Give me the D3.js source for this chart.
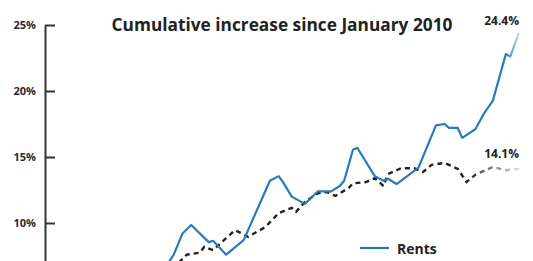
<!DOCTYPE html>
<html>
<head>
<meta charset="utf-8">
<script src="https://cdn.jsdelivr.net/npm/d3@7"></script>
<style>
  body { margin: 0; background: #fff; }
  svg { display: block; font-family: "Open Sans", sans-serif; }
</style>
</head>
<body>
<svg id="chart"></svg>
<script>
// months since January 2010 and cumulative % change
const rentMonths = [0, 12, 24, 28, 29, 31, 33, 37, 38, 41, 45, 51, 53, 54, 56, 59, 62, 65, 67, 68, 70, 71, 75, 77, 78, 80, 85, 89, 91, 92, 94, 95, 98, 100, 102, 105, 106, 108];
const rentValues = [0, 2.4, 5.0, 7.1, 7.6, 9.2, 9.85, 8.55, 8.65, 7.6, 8.7, 13.2, 13.55, 13.1, 12.0, 11.45, 12.4, 12.4, 12.8, 13.2, 15.55, 15.7, 13.55, 13.2, 13.35, 12.95, 14.2, 17.4, 17.5, 17.2, 17.2, 16.45, 17.1, 18.3, 19.25, 22.8, 22.6, 24.4];

const cpiMonths = [0, 12, 24, 32, 35, 36, 38, 41, 43, 45, 46, 50, 53, 56, 57, 59, 62, 64, 66, 69, 70, 73, 75, 77, 78, 81, 84, 86, 88, 91, 94, 96, 98, 102, 105, 108];
const cpiValues = [0, 2.2, 5.0, 7.6, 7.75, 8.2, 7.95, 8.85, 9.45, 9.15, 8.95, 9.7, 10.75, 11.15, 10.85, 11.6, 12.25, 12.35, 12.05, 12.65, 13.0, 13.1, 13.4, 12.8, 13.7, 14.15, 14.15, 13.85, 14.4, 14.55, 14.1, 13.1, 13.65, 14.25, 14.0, 14.1];

// only the upper ticks are inside the visible window
const yTicks = [10, 15, 20, 25];
const titleText = 'Cumulative increase since January 2010';
const rentLabel = 'Rents';

const width = 533, height = 261;
const svg = d3.select('#chart').attr('width', width).attr('height', height);

const xscale = d3.scaleLinear().domain([0, 108]).range([47, 519]);
const yscale = d3.scaleLinear().domain([0, 25]).range([355, 25]);

const rents = rentMonths.map((m, i) => ({ m: m, v: rentValues[i] }));
const cpi = cpiMonths.map((m, i) => ({ m: m, v: cpiValues[i] }));

// fading ends
const defs = svg.append('defs');
function fade(id, color, from, to, endOpacity) {
    const g = defs.append('linearGradient')
        .attr('id', id)
        .attr('gradientUnits', 'userSpaceOnUse')
        .attr('x1', xscale(from)).attr('x2', xscale(to))
        .attr('y1', 0).attr('y2', 0);
    g.append('stop').attr('offset', 0).attr('stop-color', color).attr('stop-opacity', 1);
    g.append('stop').attr('offset', 1).attr('stop-color', color).attr('stop-opacity', endOpacity);
}
fade('fadeRent', '#2a7ab8', 105, 108, 0.25);
fade('fadeCpi', '#222222', 96, 108, 0.15);

const line = d3.line()
    .x(d => xscale(d.m))
    .y(d => yscale(d.v));

svg.append('path')
    .datum(cpi)
    .attr('d', line)
    .attr('fill', 'none')
    .attr('stroke', 'url(#fadeCpi)')
    .attr('stroke-width', 2.4)
    .attr('stroke-dasharray', '5,4');

svg.append('path')
    .datum(rents)
    .attr('d', line)
    .attr('fill', 'none')
    .attr('stroke', 'url(#fadeRent)')
    .attr('stroke-width', 2.2)
    .attr('stroke-linejoin', 'round');

// y axis
const yaxis = d3.axisLeft(yscale)
    .tickValues(yTicks)
    .tickFormat(d => d + '%')
    .tickSizeInner(-10)
    .tickSizeOuter(0)
    .tickPadding(9);

const ag = svg.append('g')
    .attr('transform', 'translate(45,0)')
    .call(yaxis);
ag.select('.domain').attr('stroke', '#333').attr('stroke-width', 2);
ag.selectAll('.tick line').attr('stroke', '#333').attr('stroke-width', 2);
ag.selectAll('.tick text')
    .attr('fill', '#2b2b2b')
    .style('font-size', '11px')
    .style('font-weight', 'bold')
    .style('font-family', '"Open Sans", sans-serif');

// title
svg.append('text')
    .attr('x', 282)
    .attr('y', 31)
    .attr('text-anchor', 'middle')
    .attr('fill', '#222')
    .style('font-size', '17.3px')
    .style('font-weight', 'bold')
    .text(titleText);

// end labels
const lastRent = rents[rents.length - 1];
const lastCpi = cpi[cpi.length - 1];
svg.append('text')
    .attr('x', xscale(lastRent.m))
    .attr('y', 25)
    .attr('text-anchor', 'end')
    .attr('fill', '#222')
    .style('font-size', '12px')
    .style('font-weight', 'bold')
    .text(lastRent.v.toFixed(1) + '%');
svg.append('text')
    .attr('x', xscale(lastCpi.m))
    .attr('y', 158)
    .attr('text-anchor', 'end')
    .attr('fill', '#222')
    .style('font-size', '12px')
    .style('font-weight', 'bold')
    .text(lastCpi.v.toFixed(1) + '%');

// legend
const legend = svg.append('g').attr('transform', 'translate(360,248)');
legend.append('line')
    .attr('x1', 0).attr('x2', 29)
    .attr('y1', 0).attr('y2', 0)
    .attr('stroke', '#2a7ab8')
    .attr('stroke-width', 2.2);
legend.append('text')
    .attr('x', 37)
    .attr('y', 6)
    .attr('fill', '#222')
    .style('font-size', '14px')
    .style('font-weight', 'bold')
    .text(rentLabel);
</script>
</body>
</html>
